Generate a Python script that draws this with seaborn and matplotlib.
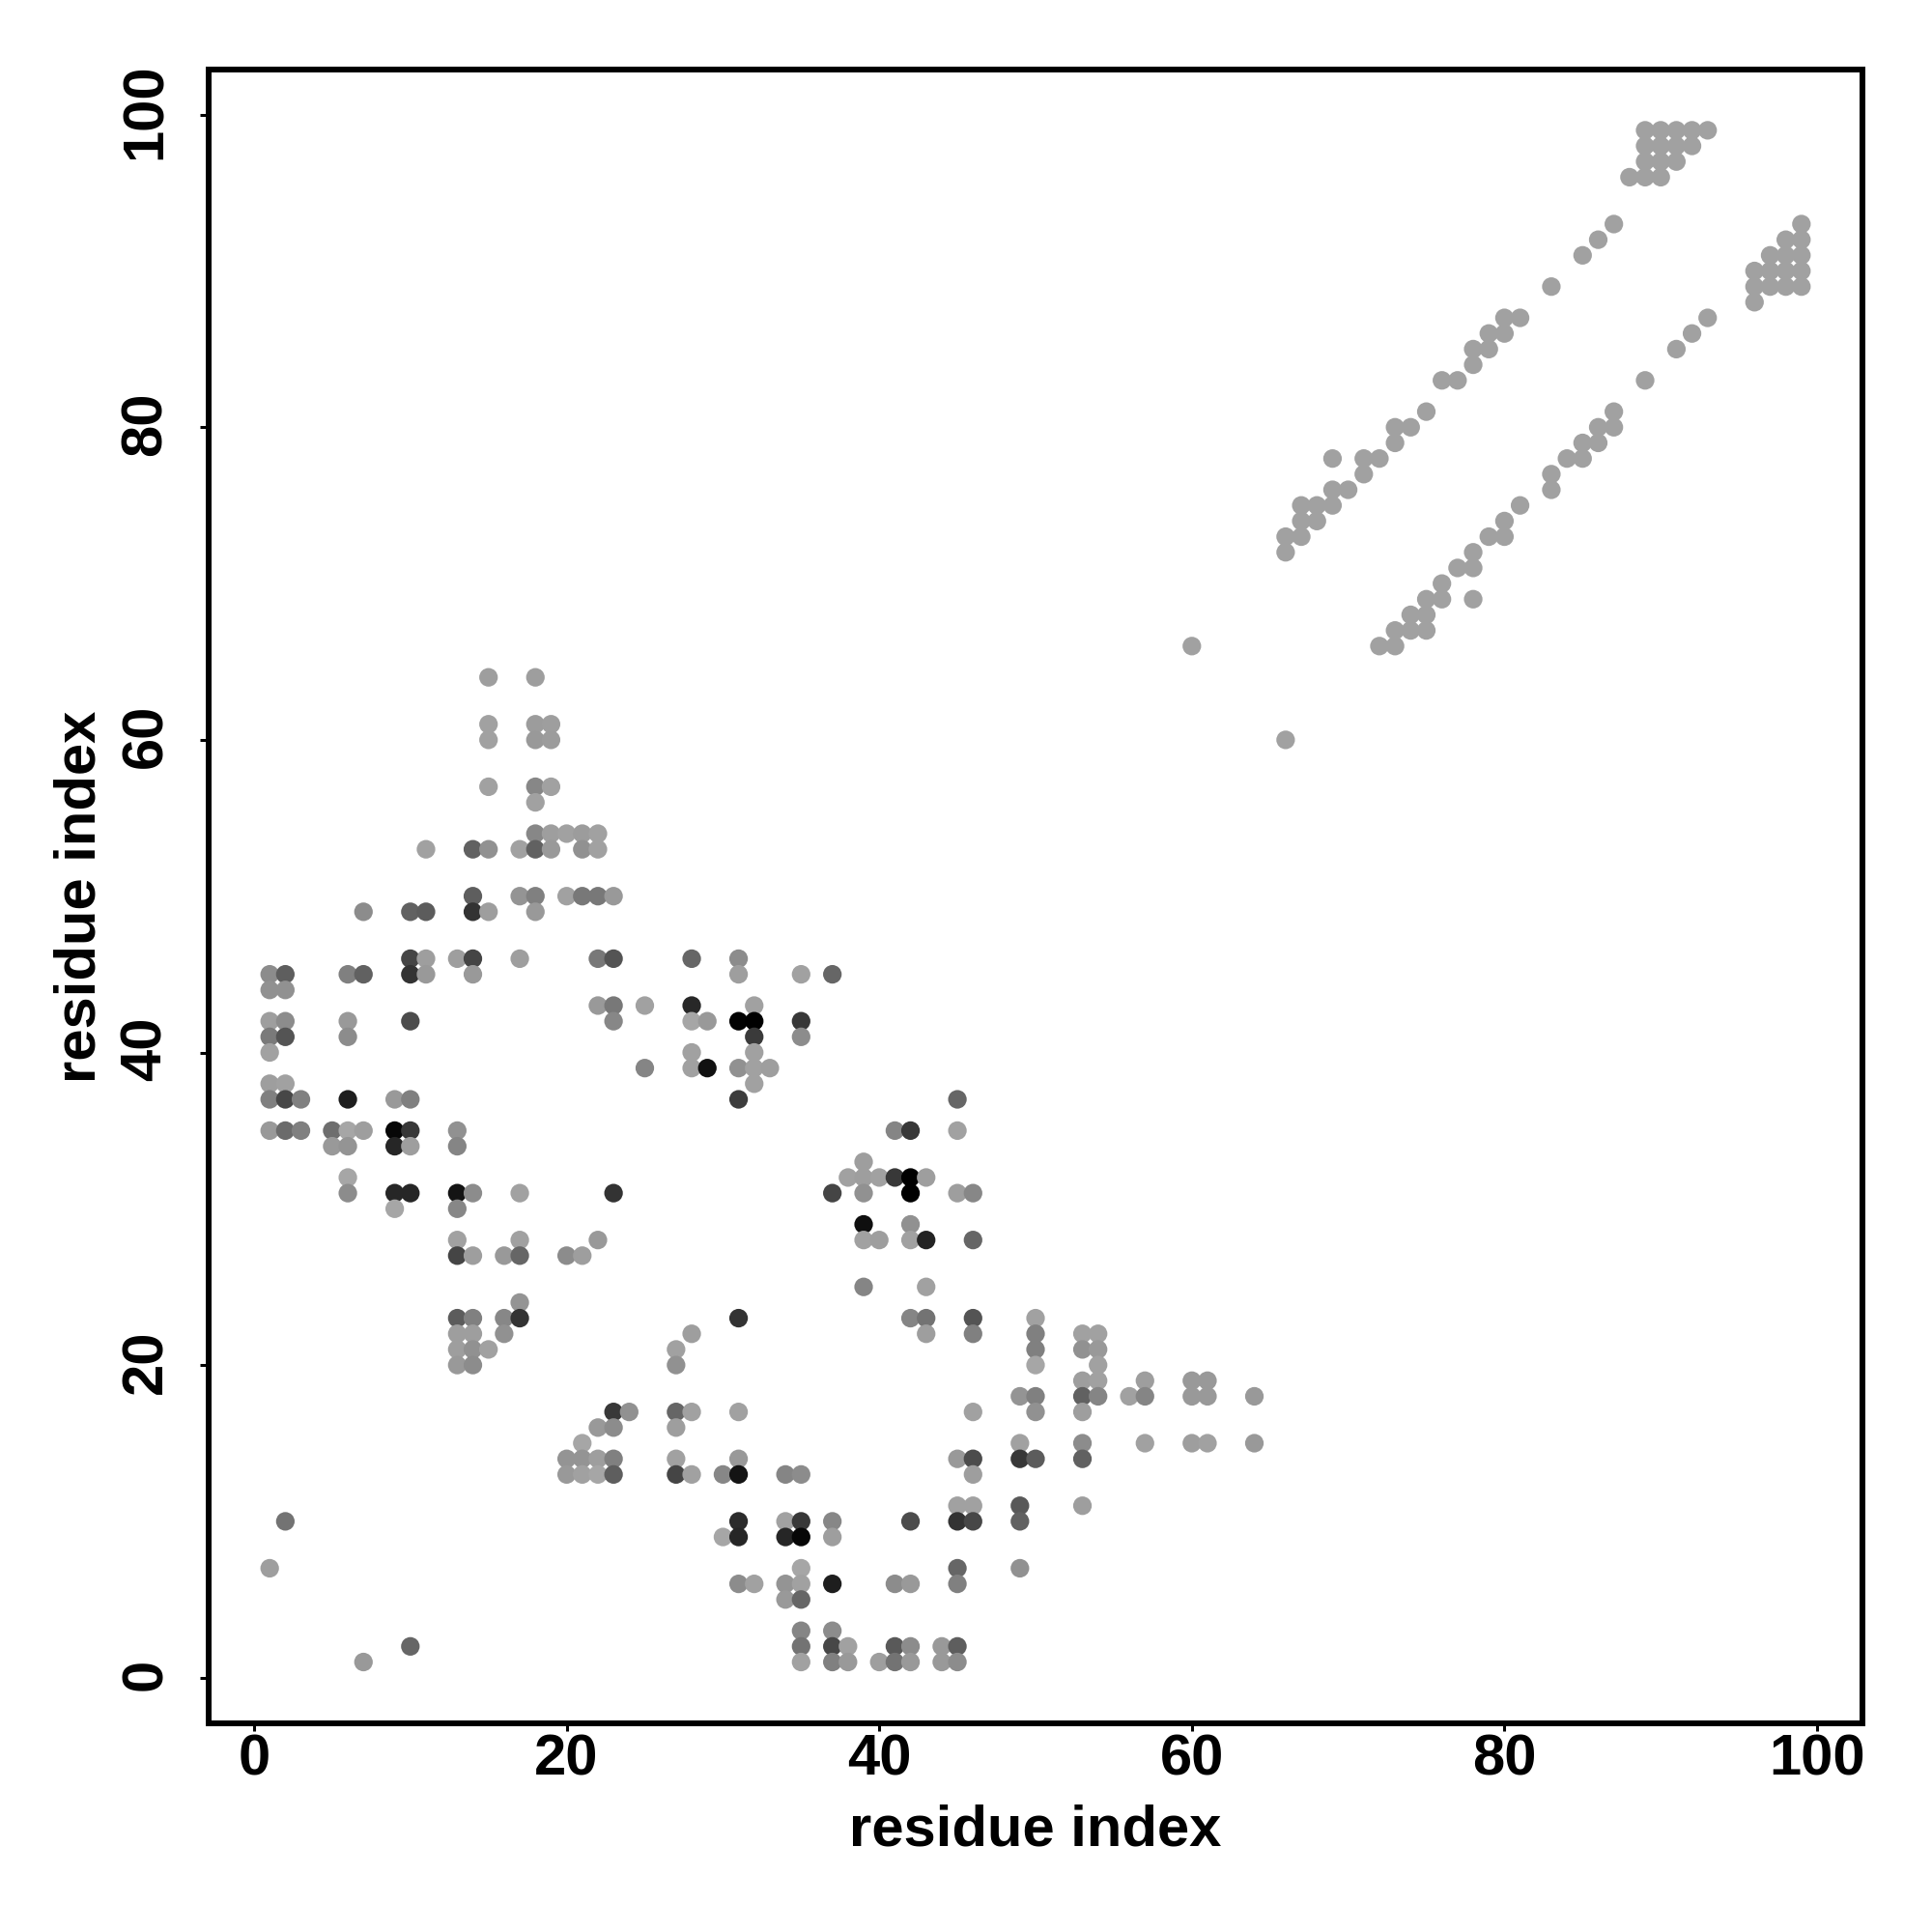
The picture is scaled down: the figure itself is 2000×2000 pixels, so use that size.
import matplotlib
matplotlib.use("Agg")
import matplotlib.pyplot as plt
from matplotlib.transforms import ScaledTranslation
import pandas as pd
import seaborn as sns

# Off-diagonal contacts with varying shade (0 = black), grouped by j
contact_i = [
15,18,
15,18,19,
15,18,19,
15,18,19,
18,
18,19,20,21,22,
11,14,15,17,18,19,21,22,
14,17,18,20,21,22,23,
7,10,11,14,15,18,
10,11,13,14,17,22,23,28,31,
1,2,6,7,10,11,14,31,35,37,
1,2,
22,23,25,28,32,
1,2,6,10,23,28,29,31,32,35,
1,2,6,32,35,
1,28,32,
25,28,29,31,32,33,
1,2,32,
1,2,3,6,9,10,31,45,
1,2,3,5,6,7,9,10,13,41,42,45,
5,6,9,10,13,
39,
6,38,39,40,41,42,43,
6,9,10,13,14,17,23,37,39,42,45,46,
9,13,
39,42,
13,17,22,39,40,42,43,46,
13,14,16,17,20,21,
39,43,
17,
13,14,16,17,31,42,43,46,50,
13,14,16,28,43,46,50,53,54,
13,14,15,27,50,53,54,
13,14,27,50,54,
53,54,57,60,61,
49,50,53,54,56,57,60,61,64,
23,24,27,28,31,46,50,53,
22,23,27,
21,49,53,57,60,61,64,
20,21,22,23,27,31,45,46,49,50,53,
20,21,22,23,27,28,30,31,34,35,46,
45,46,49,53,
2,31,34,35,37,42,45,46,49,
30,31,34,35,37,
1,35,45,49,
31,32,34,35,37,41,42,45,
34,35,
35,37,
10,35,37,38,41,42,44,45,
7,35,37,38,40,41,42,44,45,
]
contact_j = [
64,64,
61,61,61,
60,60,60,
57,57,57,
56,
54,54,54,54,54,
53,53,53,53,53,53,53,53,
50,50,50,50,50,50,50,
49,49,49,49,49,49,
46,46,46,46,46,46,46,46,46,
45,45,45,45,45,45,45,45,45,45,
44,44,
43,43,43,43,43,
42,42,42,42,42,42,42,42,42,42,
41,41,41,41,41,
40,40,40,
39,39,39,39,39,39,
38,38,38,
37,37,37,37,37,37,37,37,
35,35,35,35,35,35,35,35,35,35,35,35,
34,34,34,34,34,
33,
32,32,32,32,32,32,32,
31,31,31,31,31,31,31,31,31,31,31,31,
30,30,
29,29,
28,28,28,28,28,28,28,28,
27,27,27,27,27,27,
25,25,
24,
23,23,23,23,23,23,23,23,23,
22,22,22,22,22,22,22,22,22,
21,21,21,21,21,21,21,
20,20,20,20,20,
19,19,19,19,19,
18,18,18,18,18,18,18,18,18,
17,17,17,17,17,17,17,17,
16,16,16,
15,15,15,15,15,15,15,
14,14,14,14,14,14,14,14,14,14,14,
13,13,13,13,13,13,13,13,13,13,13,
11,11,11,11,
10,10,10,10,10,10,10,10,10,
9,9,9,9,9,
7,7,7,7,
6,6,6,6,6,6,6,6,
5,5,
3,3,
2,2,2,2,2,2,2,2,
1,1,1,1,1,1,1,1,1,
]
contact_shade = [
.62,.62,
.63,.61,.62,
.63,.60,.61,
.63,.53,.63,
.63,
.53,.62,.63,.61,.63,
.63,.38,.57,.63,.38,.60,.57,.63,
.37,.58,.50,.63,.47,.47,.60,
.55,.38,.36,.20,.62,.60,
.27,.62,.62,.27,.62,.47,.33,.40,.55,
.55,.37,.50,.38,.20,.60,.60,.62,.63,.40,
.57,.57,
.60,.47,.63,.16,.63,
.62,.55,.60,.30,.53,.65,.60,.01,.00,.22,
.48,.33,.55,.23,.55,
.63,.63,.63,
.52,.63,.07,.57,.63,.62,
.62,.63,.63,
.50,.28,.50,.12,.60,.50,.24,.40,
.60,.42,.50,.43,.65,.62,.03,.22,.57,.52,.22,.63,
.60,.58,.15,.62,.52,
.62,
.65,.63,.62,.63,.22,.00,.62,
.55,.15,.15,.08,.55,.63,.20,.27,.57,.00,.62,.53,
.65,.53,
.06,.57,
.63,.63,.60,.63,.62,.63,.14,.40,
.27,.62,.60,.40,.55,.62,
.52,.63,
.58,
.36,.50,.53,.20,.20,.52,.45,.33,.63,
.62,.62,.57,.62,.62,.50,.50,.63,.63,
.62,.57,.63,.63,.50,.57,.60,
.60,.55,.57,.65,.63,
.62,.63,.62,.60,.60,
.58,.50,.38,.52,.63,.52,.60,.60,.60,
.22,.57,.40,.63,.63,.63,.57,.62,
.60,.55,.62,
.65,.63,.55,.63,.62,.63,.60,
.58,.58,.62,.50,.63,.60,.60,.30,.22,.36,.38,
.60,.63,.65,.37,.27,.63,.53,.08,.52,.55,.62,
.63,.63,.35,.62,
.45,.17,.63,.22,.53,.30,.20,.28,.38,
.65,.15,.15,.03,.62,
.62,.65,.40,.57,
.55,.63,.58,.63,.12,.55,.60,.50,
.60,.40,
.52,.55,
.40,.45,.28,.63,.35,.55,.60,.37,
.60,.63,.50,.60,.62,.45,.60,.60,.55,
]

# Light contacts near the two long diagonals (single shade)
helix_i = [60,66,66,66,67,67,68,67,68,69,69,70,69,71,71,72,73,73,74,75,76,77,78,78,79,79,80,80,81,
           83,85,86,87,88,89,90,89,90,91,89,90,91,92,89,90,91,92,93]
helix_j = [66,72,73,60,73,74,74,75,75,75,76,76,78,77,78,78,79,80,80,81,83,83,84,85,85,86,86,87,87,
           89,91,92,93,96,96,96,97,97,97,98,98,98,98,99,99,99,99,99]
sheet_i = [72,73,73,74,75,74,75,75,76,76,78,77,78,78,79,80,80,81,83,83,84,85,85,86,86,87,87,89,91,92,93,
           96,96,97,98,99,96,97,98,99,97,98,99,98,99,99]
sheet_j = [66,66,67,67,67,68,68,69,69,70,69,71,71,72,73,73,74,75,76,77,78,78,79,79,80,80,81,83,85,86,87,
           88,89,89,89,89,90,90,90,90,91,91,91,92,92,93]
diagonal_shade = 0.63

x_ticks = [0, 20, 40, 60, 80, 100]
y_ticks = [0, 20, 40, 60, 80, 100]
x_title = "residue index"
y_title = "residue index"

df = pd.DataFrame({
    "i": contact_i + helix_i + sheet_i,
    "j": contact_j + helix_j + sheet_j,
    "shade": contact_shade + [diagonal_shade] * (len(helix_i) + len(sheet_i)),
})

sns.set_theme(style="white")
plt.rcParams["font.family"] = ["Liberation Sans", "DejaVu Sans"]

fig = plt.figure(figsize=(10, 10), dpi=200)
ax = fig.add_axes([216 / 2000, 1 - 1784 / 2000, 1712 / 2000, 1712 / 2000])

sns.scatterplot(data=df, x="i", y="j", hue="shade", palette="gray", hue_norm=(0, 1),
                s=48, linewidth=0, alpha=1, legend=False, ax=ax)

ax.set_xlim((216 - 263) / 16.18, (1928 - 263) / 16.18)
ax.set_ylim((1736.7 - 1784) / 16.18, (1736.7 - 72) / 16.18)
ax.set_xticks(x_ticks)
ax.set_yticks(y_ticks)
ax.set_xlabel(x_title, fontsize=21.5, fontweight="bold", color="black", labelpad=6.4)
ax.set_ylabel(y_title, fontsize=21.5, fontweight="bold", color="black", labelpad=5)
ax.tick_params(axis="x", which="major", length=2.9, width=1.1, color="black",
               labelsize=21.5, labelcolor="black", bottom=True, pad=1)
ax.tick_params(axis="y", which="major", length=3.3, width=1.1, color="black",
               labelsize=21.5, labelcolor="black", left=True, pad=10)
for lab in ax.get_xticklabels():
    lab.set_fontweight("bold")
nudge_up = ScaledTranslation(0, 1.3 / 72, fig.dpi_scale_trans)
for lab in ax.get_yticklabels():
    lab.set_fontweight("bold")
    lab.set_rotation(90)
    lab.set_va("center")
    lab.set_transform(lab.get_transform() + nudge_up)
for sp in ax.spines.values():
    sp.set_visible(True)
    sp.set_color("black")
    sp.set_linewidth(2.16)

fig.savefig("out.png", dpi=200, facecolor="white")
